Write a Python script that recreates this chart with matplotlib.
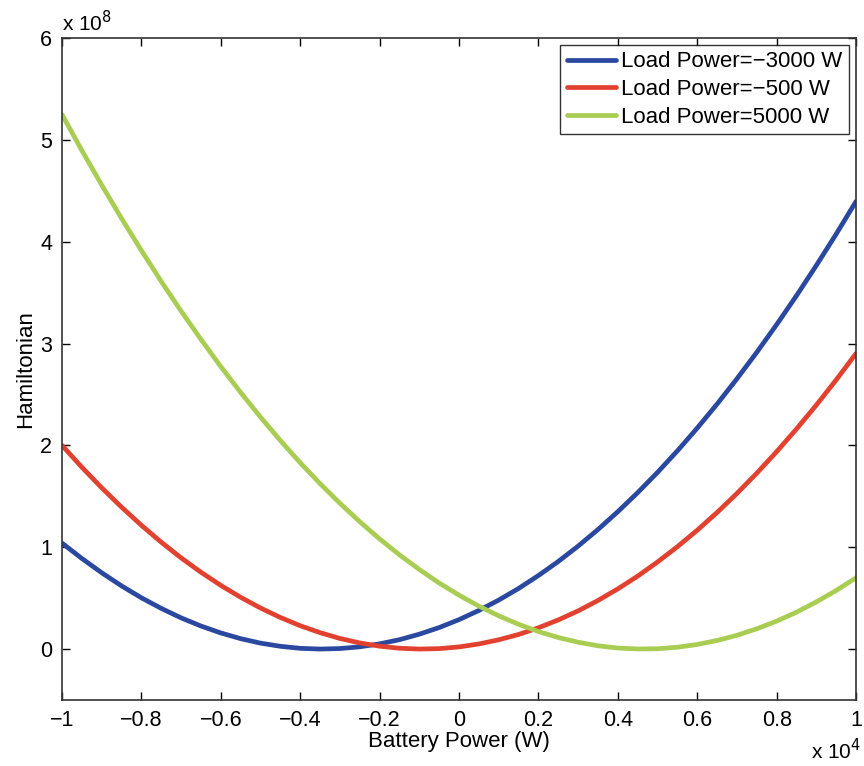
import matplotlib
matplotlib.use("Agg")
import matplotlib.pyplot as plt

plt.rcParams['font.family'] = ['Liberation Sans', 'DejaVu Sans']

# battery power (x 10^4 W)
battery_power = [-1.0, -0.95, -0.9, -0.85, -0.8, -0.75, -0.7, -0.65, -0.6, -0.55, -0.5,
                 -0.45, -0.4, -0.35, -0.3, -0.25, -0.2, -0.15, -0.1, -0.05, 0.0,
                 0.05, 0.1, 0.15, 0.2, 0.25, 0.3, 0.35, 0.4, 0.45, 0.5,
                 0.55, 0.6, 0.65, 0.7, 0.75, 0.8, 0.85, 0.9, 0.95, 1.0]

# hamiltonian (x 10^8)
h_load_m3000 = [1.04, 0.889, 0.749, 0.620, 0.503, 0.399, 0.306, 0.226, 0.158, 0.102, 0.058,
                0.027, 0.007, 0.000, 0.005, 0.022, 0.051, 0.092, 0.146, 0.211, 0.289,
                0.379, 0.481, 0.595, 0.722, 0.860, 1.011, 1.174, 1.349, 1.536, 1.735,
                1.946, 2.170, 2.406, 2.654, 2.914, 3.186, 3.470, 3.767, 4.075, 4.396]
h_load_m500 = [2.0, 1.785, 1.583, 1.393, 1.215, 1.049, 0.895, 0.754, 0.625, 0.508, 0.403,
               0.310, 0.229, 0.161, 0.104, 0.060, 0.028, 0.008, 0.000, 0.004, 0.021,
               0.050, 0.091, 0.143, 0.209, 0.286, 0.375, 0.477, 0.591, 0.716, 0.855,
               1.005, 1.167, 1.341, 1.528, 1.727, 1.938, 2.161, 2.396, 2.643, 2.903]
h_load_5000 = [5.248, 4.895, 4.556, 4.228, 3.913, 3.609, 3.318, 3.040, 2.773, 2.519, 2.277,
               2.047, 1.829, 1.624, 1.431, 1.250, 1.081, 0.925, 0.781, 0.648, 0.529,
               0.421, 0.326, 0.243, 0.172, 0.113, 0.067, 0.032, 0.010, 0.001, 0.003,
               0.018, 0.045, 0.084, 0.135, 0.199, 0.274, 0.362, 0.463, 0.575, 0.700]

labels = ['Load Power=\u22123000 W', 'Load Power=\u2212500 W', 'Load Power=5000 W']
colors = ['#2b48a0', '#e2412f', '#a9cc52']

x_ticks = [-1, -0.8, -0.6, -0.4, -0.2, 0, 0.2, 0.4, 0.6, 0.8, 1]
x_tick_labels = ['\u22121', '\u22120.8', '\u22120.6', '\u22120.4', '\u22120.2', '0',
                 '0.2', '0.4', '0.6', '0.8', '1']
y_ticks = [0, 1, 2, 3, 4, 5, 6]

fig = plt.figure(figsize=(8.64, 7.66), dpi=100)
ax = fig.add_axes([0.0718, 0.0862, 0.919, 0.8642])

for ys, lab, col in zip([h_load_m3000, h_load_m500, h_load_5000], labels, colors):
    ax.plot(battery_power, ys, color=col, lw=3.4, label=lab,
            solid_capstyle='round', solid_joinstyle='round')

ax.set_xlim(-1, 1)
ax.set_ylim(-0.5, 6)
ax.set_xticks(x_ticks)
ax.set_xticklabels(x_tick_labels)
ax.set_yticks(y_ticks)
ax.tick_params(direction='in', top=True, right=True, length=6, width=1,
               labelsize=15.5, pad=7)
for sp in ax.spines.values():
    sp.set_linewidth(1.2)
    sp.set_color('#333333')

ax.set_xlabel('Battery Power (W)', fontsize=16, labelpad=0)
ax.set_ylabel('Hamiltonian', fontsize=16, labelpad=3)

ax.text(0.0, 1.004, 'x 10$^{8}$', transform=ax.transAxes, fontsize=15,
        ha='left', va='bottom')
fig.text(0.997, 0.004, 'x 10$^{4}$', fontsize=15, ha='right', va='bottom')

leg = ax.legend(loc='upper right', fontsize=16, frameon=True, fancybox=False,
                edgecolor='black', borderaxespad=0.3, handlelength=2.2,
                handletextpad=0.25, labelspacing=0.3, borderpad=0.3)
leg.get_frame().set_linewidth(1.0)

fig.savefig('out.png', dpi=100)
